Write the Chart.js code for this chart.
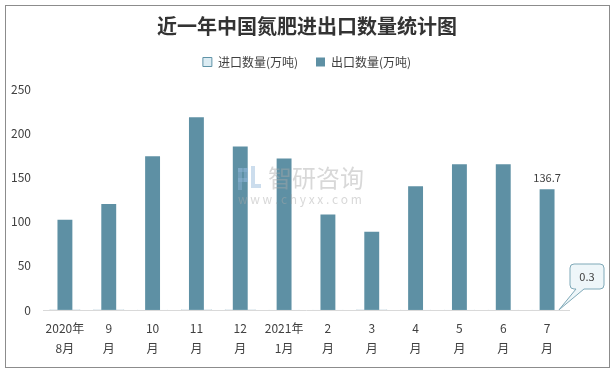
<!DOCTYPE html>
<html>
<head>
<meta charset="utf-8">
<script src="https://cdn.jsdelivr.net/npm/chart.js@4"></script>
<style>
  body { margin: 0; background: #fff; }
  #wrap { width: 614px; height: 371px; position: relative; }
</style>
</head>
<body>
<div id="wrap"><canvas id="nChart" width="614" height="371"></canvas></div>
<script>
// months on x axis (two lines each)
const months = [
  ["2020年", "8月"], ["9", "月"], ["10", "月"], ["11", "月"], ["12", "月"],
  ["2021年", "1月"], ["2", "月"], ["3", "月"], ["4", "月"], ["5", "月"],
  ["6", "月"], ["7", "月"]
];
// import / export volume (10k tons)
const importQty = [0.6, 0.5, 0.4, 0.5, 0.6, 0.4, 0.3, 0.5, 0.4, 0.3, 0.4, 0.3];
const exportQty = [102, 120, 174, 218, 185, 171.5, 108, 88.5, 140, 165, 165, 136.7];
const yTicks = [0, 50, 100, 150, 200, 250];

const FONT = "'Noto Sans CJK SC', 'Noto Sans', sans-serif";

// frame, labels, callout, watermark
const extras = {
  id: "extras",
  beforeDraw(chart) {
    const c = chart.ctx;
    c.save();
    c.fillStyle = "#fff";
    c.fillRect(0, 0, chart.width, chart.height);
    c.strokeStyle = "#8c8c8c";
    c.lineWidth = 1;
    c.strokeRect(5.5, 5.5, 604, 362);
    c.restore();
  },
  afterDatasetsDraw(chart) {
    const c = chart.ctx;
    const x = chart.scales.x, y = chart.scales.y;
    const last = exportQty.length - 1;
    c.save();
    // watermark
    c.globalAlpha = 0.45;
    c.fillStyle = "#a9a9a9";
    c.font = "24px " + FONT;
    c.textBaseline = "middle";
    c.fillText("智研咨询", 268, 178);
    c.font = "12px " + FONT;
    c.fillText("w w w . c h y x x . c o m", 238, 199);
    c.fillStyle = "#8fb4d8";
    c.fillRect(238, 168, 10, 4);
    c.fillRect(244, 168, 4, 14);
    c.fillRect(238, 178, 10, 4);
    c.fillRect(238, 168, 4, 22);
    c.fillRect(251, 166, 4, 18);
    c.fillRect(251, 184, 10, 4);
    c.globalAlpha = 1;

    // value label on last export bar
    c.fillStyle = "#404040";
    c.font = "11px " + FONT;
    c.textAlign = "center";
    c.textBaseline = "bottom";
    c.fillText(String(exportQty[last]), x.getPixelForValue(last), y.getPixelForValue(exportQty[last]) - 6);

    // callout for last import value
    const px = x.getPixelForValue(last) + 12, py = y.getPixelForValue(importQty[last]);
    const bx = 570, by = 264, bw = 34, bh = 25, r = 4;
    c.beginPath();
    c.moveTo(bx + r, by);
    c.lineTo(bx + bw - r, by);
    c.quadraticCurveTo(bx + bw, by, bx + bw, by + r);
    c.lineTo(bx + bw, by + bh - r);
    c.quadraticCurveTo(bx + bw, by + bh, bx + bw - r, by + bh);
    c.lineTo(bx + 14, by + bh);
    c.lineTo(px, py);
    c.lineTo(bx + 6, by + bh);
    c.lineTo(bx + r, by + bh);
    c.quadraticCurveTo(bx, by + bh, bx, by + bh - r);
    c.lineTo(bx, by + r);
    c.quadraticCurveTo(bx, by, bx + r, by);
    c.closePath();
    c.fillStyle = "#eef6f9";
    c.fill();
    c.strokeStyle = "#7fa9b8";
    c.lineWidth = 1;
    c.stroke();
    c.fillStyle = "#404040";
    c.textBaseline = "middle";
    c.fillText(String(importQty[last]), bx + bw / 2, by + bh / 2);
    c.restore();
  }
};

const data = {
  labels: months,
  datasets: [
    {
      label: "进口数量(万吨)",
      data: importQty,
      backgroundColor: "#dcecf3",
      borderColor: "#5f93a7",
      borderWidth: 1,
      barPercentage: 0.71,
      categoryPercentage: 1,
      grouped: false
    },
    {
      label: "出口数量(万吨)",
      data: exportQty,
      backgroundColor: "#5e90a4",
      barPercentage: 0.34,
      categoryPercentage: 1,
      grouped: false
    }
  ]
};

// empty spacer axes to place the plot area
const spacer = (pos, key, size) => ({
  position: pos,
  display: true,
  grid: { display: false, drawTicks: false },
  border: { display: false },
  ticks: { display: false },
  afterFit: (s) => { s[key] = size; }
});

let config = {
  type: "bar",
  data: data,
  options: {
    responsive: false,
    animation: false,
    layout: { padding: 0 },
    scales: {
      x: {
        grid: { display: false, drawTicks: false },
        border: { color: "#d9d9d9" },
        ticks: {
          color: "#404040",
          font: { family: FONT, size: 12, lineHeight: 1.65 },
          padding: 9,
          maxRotation: 0,
          autoSkip: false
        },
        afterFit: (s) => { s.height = 61; }
      },
      xTop: Object.assign(spacer("top", "height", 11), { type: "category", labels: [""] }),
      y: {
        min: 0,
        max: 250,
        grid: { display: false, drawTicks: false },
        border: { display: false },
        afterBuildTicks: (s) => { s.ticks = yTicks.map((v) => ({ value: v })); },
        ticks: {
          color: "#404040",
          font: { family: FONT, size: 12 },
          padding: 12
        },
        afterFit: (s) => { s.width = 43; }
      },
      yRight: Object.assign(spacer("right", "width", 45), { type: "linear" })
    },
    plugins: {
      title: {
        display: true,
        text: "近一年中国氮肥进出口数量统计图",
        color: "#333",
        font: { family: FONT, size: 20, weight: "bold" },
        padding: { top: 14, bottom: 0 }
      },
      legend: {
        labels: {
          color: "#404040",
          font: { family: FONT, size: 12 },
          boxWidth: 9,
          boxHeight: 9,
          padding: 18
        }
      },
      tooltip: { enabled: false }
    }
  },
  plugins: [extras]
};

const ctx = document.getElementById("nChart").getContext("2d");
let myChart = new Chart(ctx, config);
</script>
</body>
</html>
